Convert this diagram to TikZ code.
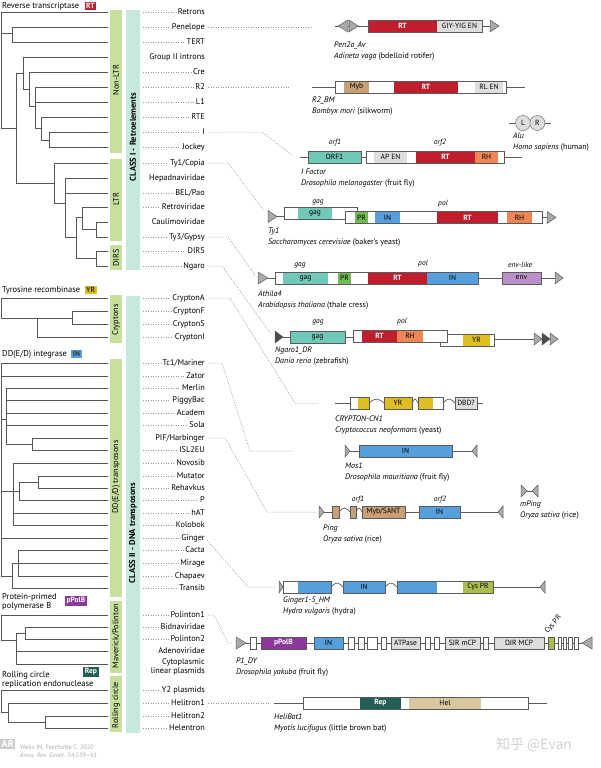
\documentclass[tikz,border=0pt]{standalone}
\usepackage{fontspec}
\setmainfont{PT Sans}
\newfontfamily\cjkfont{Noto Sans CJK SC}
\usepackage{tikz}
\usetikzlibrary{positioning,calc}
\definecolor{treegray}{RGB}{85,85,85}
\definecolor{dotgray}{RGB}{150,150,150}
\definecolor{catgreen}{RGB}{200,224,158}
\definecolor{clsteal}{RGB}{198,233,223}
\definecolor{rtred}{RGB}{192,30,45}
\definecolor{rhorange}{RGB}{238,135,85}
\definecolor{gagteal}{RGB}{112,200,184}
\definecolor{inblue}{RGB}{85,160,220}
\definecolor{prgreen}{RGB}{115,185,85}
\definecolor{envpurple}{RGB}{185,145,200}
\definecolor{yryellow}{RGB}{222,190,35}
\definecolor{mybtan}{RGB}{200,160,120}
\definecolor{domgray}{RGB}{222,222,222}
\definecolor{polbpurple}{RGB}{140,55,155}
\definecolor{repteal}{RGB}{35,95,85}
\definecolor{heltan}{RGB}{215,200,160}
\definecolor{cysgreen}{RGB}{170,190,80}
\definecolor{boxline}{RGB}{90,90,90}
\definecolor{trigray}{RGB}{170,170,170}
% gene map helpers
\newcommand{\seg}[6]{\fill[#5] (#2,#4-6) rectangle node[gtxt] (#1) {#6} (#3,#4+6);}
\newcommand{\gbox}[3]{\filldraw[gout,fill=white] (#1,#3-6) rectangle (#2,#3+6);}
\newcommand{\gedge}[3]{\draw[gout] (#1,#3-6) rectangle (#2,#3+6);}
\newcommand{\tri}[4]{\filldraw[#4] (#1,#3-6) -- (#2,#3) -- (#1,#3+6) -- cycle;}
\newcommand{\intr}[3]{\draw[gline] (#1,#3) sin ({(#1+#2)/2},#3-4) cos (#2,#3);}
\newcommand{\elname}[5]{\node[ename] (#1) at (#2,#3) {\textit{#4}\\#5};}
\tikzset{
  tr/.style={draw=treegray,line width=0.7pt},
  leaf/.style={anchor=east,inner sep=0pt,text height=5.8pt,text depth=1.6pt,font=\fontsize{8.3}{9}\selectfont},
  dots/.style={draw=dotgray,line width=0.5pt,dash pattern=on 1.2pt off 1.3pt},
  nodots/.style={draw=none},
  cattxt/.style={rotate=90,inner sep=0pt,font=\fontsize{8.3}{9}\selectfont},
  clstxt/.style={rotate=90,inner sep=0pt,font=\bfseries\fontsize{8.5}{9}\selectfont},
  hdr/.style={anchor=west,align=left,inner sep=0pt,font=\fontsize{8.5}{9.5}\selectfont},
  badge/.style={inner sep=1.6pt,font=\bfseries\fontsize{7.5}{8}\selectfont},
  gout/.style={draw=boxline,line width=0.6pt},
  gline/.style={draw=boxline,line width=0.7pt},
  gtxt/.style={inner sep=0pt,font=\fontsize{7.5}{8}\selectfont},
  glab/.style={inner sep=0pt,font=\itshape\fontsize{7.5}{8}\selectfont},
  ename/.style={anchor=north west,align=left,inner sep=0pt,font=\fontsize{8}{10.5}\selectfont},
  tri/.style={draw=boxline,fill=trigray,line width=0.5pt},
  trid/.style={draw=boxline,fill=black!70,line width=0.5pt},
  alu/.style={circle,draw=boxline,fill=domgray,minimum size=15pt,inner sep=0pt,font=\fontsize{7.5}{8}\selectfont},
}
\begin{document}
\begin{tikzpicture}[x=1pt,y=-1pt]
  \useasboundingbox (0,0) rectangle (600,768);
  \fill[white] (0,0) rectangle (600,768);
  % category and class bars
  \fill[catgreen] (110,10) rectangle (122,153);
  \fill[catgreen] (110,159) rectangle (122,241);
  \fill[catgreen] (110,245) rectangle (122,270);
  \fill[catgreen] (110,295) rectangle (122,343);
  \fill[catgreen] (110,359) rectangle (122,597);
  \fill[catgreen] (110,601) rectangle (122,673);
  \fill[catgreen] (110,676) rectangle (122,732);
  \fill[clsteal] (126,10) rectangle (140,270);
  \fill[clsteal] (126,296) rectangle (140,733);
  \node[cattxt] (nonltrTxt) at (116,80) {Non-LTR};
  \node[cattxt] (ltrTxt) at (116,199) {LTR};
  \node[cattxt] (dirsTxt) at (116,258) {DIRS};
  \node[cattxt] (cryTxt) at (116,320) {Cryptons};
  \node[cattxt] (ddeTxt) at (116,477) {DD(E/D) transposons};
  \node[cattxt] (mavTxt) at (116,636) {Maverick/Polinton};
  \node[cattxt] (rcTxt) at (116,705) {Rolling circle};
  \node[clstxt] (classOne) at (133,137) {CLASS I - Retroelements};
  \node[clstxt] (classTwo) at (133,533) {CLASS II - DNA transposons};
  % enzyme headers
  \node[hdr] (rtHead) at (2,6) {Reverse transcriptase};
  \node[badge,fill=rtred,text=white,right=5pt of rtHead] (rtBadge) {RT};
  \node[hdr] (yrHead) at (2,290) {Tyrosine recombinase};
  \node[badge,fill=yryellow,text=black!80,right=4pt of yrHead] (yrBadge) {YR};
  \node[hdr] (inHead) at (2,354) {DD(E/D) integrase};
  \node[badge,fill=inblue,text=black!80,right=4pt of inHead] (inBadge) {IN};
  \node[hdr] (polbHead) at (2,602) {Protein-primed\\polymerase B};
  \node[badge,fill=polbpurple,text=white] (polbBadge) at (76,601) {pPolB};
  \node[hdr] (repHead) at (2,680) {Rolling circle\\replication endonuclease};
  \node[badge,fill=repteal,text=white] (repBadge) at (91,672) {Rep};
  % retroelement tree
  \draw[tr] (108,12) -| (1,128) -- (16,128);
  \draw[tr] (1,33) -- (12,33);
  \draw[tr] (108,27) -| (12,42) -- (108,42);
  \draw[tr] (23,73) -- (16,73) -- (16,183) -- (54,183);
  \draw[tr] (108,57) -| (23,89) -- (29,89);
  \draw[tr] (108,72) -| (29,106) -- (35,106);
  \draw[tr] (108,87) -| (35,128) -- (41,128);
  \draw[tr] (35,102) -- (108,102);
  \draw[tr] (108,117) -| (41,140) -- (49,140);
  \draw[tr] (108,132) -| (49,147) -- (108,147);
  \draw[tr] (108,163) -| (54,203) -- (65,203);
  \draw[tr] (108,178) -| (65,237) -- (76,237);
  \draw[tr] (65,193) -- (108,193);
  \draw[tr] (82,217) -- (76,217) -- (76,258) -- (96,258);
  \draw[tr] (108,207) -| (82,229) -- (96,229);
  \draw[tr] (108,222) -| (96,237) -- (108,237);
  \draw[tr] (108,251) -| (96,266) -- (108,266);
  % crypton tree
  \draw[tr] (108,298) -| (1,318) -- (72,318);
  \draw[tr] (108,311) -| (72,324) -- (108,324);
  \draw[tr] (37,318) |- (108,337);
  % DDE tree
  \draw[tr] (108,363) -| (1,576) -- (12,576);
  \draw[tr] (1,376) -- (108,376);
  \draw[tr] (1,419) -- (6,419);
  \draw[tr] (108,388) -| (6,444) -- (32,444);
  \foreach \y in {400,413,425} \draw[tr] (6,\y) -- (108,\y);
  \draw[tr] (108,438) -| (32,450) -- (108,450);
  \draw[tr] (1,491) -- (19,491);
  \draw[tr] (108,463) -| (13,525) -- (108,525);
  \draw[tr] (38,482) -| (19,500) -- (108,500);
  \draw[tr] (108,476) -| (38,488) -- (108,488);
  \draw[tr] (13,513) -- (108,513);
  \draw[tr] (1,538) -- (108,538);
  \draw[tr] (108,550) -| (18,576) -- (108,576);
  \draw[tr] (108,563) -- (12,563) -- (12,588) -- (108,588);
  % polinton tree
  \draw[tr] (108,615) -| (1,640) -- (16,640);
  \draw[tr] (25,633) -- (16,633) -- (16,664) -- (108,664);
  \draw[tr] (108,627) -| (25,639) -- (108,639);
  \draw[tr] (16,651) -- (108,651);
  % rolling circle tree
  \draw[tr] (108,690) -| (1,712) -- (8,712);
  \draw[tr] (108,703) -| (8,722) -- (45,722);
  \draw[tr] (108,716) -| (45,728) -- (108,728);
  % leaf labels
  \foreach \y/\n/\lab/\ds in {12/retrons/Retrons/dots, 27/pen/Penelope/dots, 42/tert/TERT/dots,
      57/grpii/Group II introns/nodots, 72/cre/Cre/dots, 87/rtwo/R2/dots, 102/lone/L1/dots,
      117/rte/RTE/dots, 132/ii/I/dots, 147/jockey/Jockey/dots, 163/tyone/{Ty1/Copia}/dots,
      178/hepa/Hepadnaviridae/nodots, 193/bel/{BEL/Pao}/dots, 207/retro/Retroviridae/dots,
      222/cauli/Caulimoviridae/nodots, 237/tythree/{Ty3/Gypsy}/dots, 251/dirs/DIRS/dots,
      266/ngaro/Ngaro/dots, 298/cra/CryptonA/dots, 311/crf/CryptonF/dots, 324/crs/CryptonS/dots,
      337/cri/CryptonI/dots, 363/tcone/{Tc1/Mariner}/dots, 376/zator/Zator/dots,
      388/merlin/Merlin/dots, 400/piggy/PiggyBac/dots, 413/academ/Academ/dots, 425/sola/Sola/dots,
      438/pif/{PIF/Harbinger}/nodots, 450/isl/ISL2EU/dots, 463/novosib/Novosib/dots,
      476/mutator/Mutator/dots, 488/rehav/Rehavkus/dots, 500/pp/P/dots, 513/hat/hAT/dots,
      525/kolobok/Kolobok/dots, 538/ginger/Ginger/dots, 550/cacta/Cacta/dots,
      563/mirage/Mirage/dots, 576/chapaev/Chapaev/dots, 588/transib/Transib/dots,
      615/polone/Polinton1/dots, 627/bidna/Bidnaviridae/dots, 639/poltwo/Polinton2/dots,
      651/adeno/Adenoviridae/nodots, 690/ytwo/Y2 plasmids/dots, 703/helone/Helitron1/dots,
      716/heltwo/Helitron2/dots, 728/helen/Helentron/dots} {
    \node[leaf] (\n) at (205,\y) {\lab};
    \draw[\ds,shorten >=2pt] (143,\y) -- (\n.west);
  }
  \node[leaf,align=right,text height=,text depth=] (cyto) at (205,667) {Cytoplasmic\\linear plasmids};
  % Pen2a_Av
  \draw[gline] (335,26) -- (368,26);
  \tri{348}{338}{26}{tri}
  \tri{349}{358}{26}{tri}
  \gbox{368}{482}{26}
  \seg{penRT}{368}{437}{26}{fill=rtred,text=white}{\textbf{RT}}
  \seg{penEN}{437}{482}{26}{fill=domgray}{GIY-YIG EN}
  \gedge{368}{482}{26}
  \draw[gline] (482,26) -- (490,26);
  \tri{490}{499}{26}{tri}
  \elname{penName}{334}{42}{Pen2a\_Av}{\textit{Adineta vaga} (bdelloid rotifer)}
  % R2_BM
  \draw[gline] (312,87) -- (335,87);
  \gbox{335}{506}{87}
  \seg{rtwoMyb}{344}{369}{87}{fill=mybtan}{Myb}
  \seg{rtwoRT}{394}{458}{87}{fill=rtred,text=white}{\textbf{RT}}
  \seg{rtwoEN}{475}{503}{87}{fill=domgray}{RL EN}
  \gedge{335}{506}{87}
  \draw[gline] (506,87) -- (525,87);
  \elname{rtwoName}{312}{97}{R2\_BM}{\textit{Bombyx mori} (silkworm)}
  % Alu
  \node[alu] (aluL) at (523,123) {L};
  \node[alu,right=-1pt of aluL] (aluR) {R};
  \draw[gline] (aluL.west) -- +(-6,0);
  \draw[gline] (aluR.east) -- +(6,0);
  \elname{aluName}{513}{133}{Alu}{\textit{Homo sapiens} (human)}
  % I Factor
  \draw[gline] (300,157) -- (308,157);
  \seg{ifORF}{308}{361}{157}{fill=gagteal}{ORF1}
  \gedge{308}{361}{157}
  \draw[gline] (361,157) -- (366,157);
  \gbox{366}{504}{157}
  \seg{ifAP}{374}{407}{157}{fill=domgray}{AP EN}
  \seg{ifRT}{416}{475}{157}{fill=rtred,text=white}{\textbf{RT}}
  \seg{ifRH}{475}{498}{157}{fill=rhorange}{RH}
  \gedge{366}{504}{157}
  \draw[gline] (504,157) -- (522,157);
  \node[glab] (ifOrfOne) at (335,143) {orf1};
  \node[glab] (ifOrfTwo) at (440,143) {orf2};
  \elname{ifName}{301}{169}{I Factor}{\textit{Drosophila melanogaster} (fruit fly)}
  % Ty1
  \tri{268}{277}{216.5}{tri}
  \draw[gline] (277,216.5) -- (284,216.5);
  \gbox{284}{357}{213.5}
  \seg{tyGag}{298}{332}{213.5}{fill=gagteal}{gag}
  \gedge{284}{357}{213.5}
  \gbox{345}{542}{217.5}
  \seg{tyPR}{355}{368}{217.5}{fill=prgreen}{PR}
  \seg{tyIN}{375}{400}{217.5}{fill=inblue}{IN}
  \seg{tyRT}{437}{498}{217.5}{fill=rtred,text=white}{\textbf{RT}}
  \seg{tyRH}{507}{532}{217.5}{fill=rhorange}{RH}
  \gedge{345}{542}{217.5}
  \draw[gline] (542,217.5) -- (547,217.5);
  \tri{547}{556}{217.5}{tri}
  \node[glab] (tyGagLab) at (318,202) {gag};
  \node[glab] (tyPolLab) at (443,204) {pol};
  \elname{tyName}{268}{228}{Ty1}{\textit{Saccharomyces cerevisiae} (baker's yeast)}
  % Athila4
  \tri{258}{268}{278}{tri}
  \draw[gline] (268,278) -- (275,278);
  \gbox{275}{478}{278}
  \seg{atGag}{283}{328}{278}{fill=gagteal}{gag}
  \seg{atPR}{338}{351}{278}{fill=prgreen}{PR}
  \seg{atRT}{368}{427}{278}{fill=rtred,text=white}{\textbf{RT}}
  \seg{atIN}{427}{478}{278}{fill=inblue}{IN}
  \gedge{275}{478}{278}
  \draw[gline] (478,278) -- (502,278);
  \seg{atEnv}{502}{541}{278}{fill=envpurple}{env}
  \gedge{502}{541}{278}
  \draw[gline] (541,278) -- (555,278);
  \tri{555}{563}{278}{tri}
  \node[glab] (atGagLab) at (300,265) {gag};
  \node[glab] (atPolLab) at (423,264) {pol};
  \node[glab] (atEnvLab) at (520,265) {env-like};
  \elname{atName}{258}{291}{Athila4}{\textit{Arabidopsis thaliana} (thale cress)}
  % Ngaro1_DR
  \tri{275}{283}{337}{trid}
  \draw[gline] (283,337) -- (290,337);
  \seg{ngGag}{290}{345}{337}{fill=gagteal}{gag}
  \gedge{290}{345}{337}
  \draw[gline] (345,337) -- (353,337);
  \gbox{440}{494}{340}
  \seg{ngYR}{463}{490}{340}{fill=yryellow}{YR}
  \gedge{440}{494}{340}
  \gbox{353}{447}{336}
  \seg{ngRT}{362}{397}{336}{fill=rtred,text=white}{\textbf{RT}}
  \seg{ngRH}{397}{423}{336}{fill=rhorange}{RH}
  \gedge{353}{447}{336}
  \draw[gline] (494,339) -- (534,339);
  \tri{534}{542}{339}{tri}
  \tri{542}{550}{339}{trid}
  \tri{550}{558}{339}{tri}
  \node[glab] (ngGagLab) at (318,322) {gag};
  \node[glab] (ngPolLab) at (402,322) {pol};
  \elname{ngName}{275}{347}{Ngaro1\_DR}{\textit{Danio rerio} (zebrafish)}
  % CRYPTON-CN1
  \draw[gline] (335,403) -- (350,403);
  \gbox{350}{369}{403}
  \seg{cnA}{358}{369}{403}{fill=yryellow}{}
  \gedge{350}{369}{403}
  \intr{369}{384}{403}
  \seg{cnYR}{384}{412}{403}{fill=yryellow}{YR}
  \gedge{384}{412}{403}
  \intr{412}{418}{403}
  \gbox{418}{443}{403}
  \seg{cnB}{418}{433}{403}{fill=yryellow}{}
  \gedge{418}{443}{403}
  \intr{443}{455}{403}
  \seg{cnDBD}{455}{477}{403}{fill=domgray}{DBD?}
  \gedge{455}{477}{403}
  \draw[gline] (477,403) -- (483,403);
  \elname{cnName}{335}{416}{CRYPTON-CN1}{\textit{Cryptococcus neoformans} (yeast)}
  % Mos1
  \tri{345}{350}{451}{tri}
  \draw[gline] (350,451) -- (359,451);
  \seg{mosIN}{359}{452}{451}{fill=inblue}{IN}
  \gedge{359}{452}{451}
  \draw[gline] (452,451) -- (472,451);
  \tri{477}{472}{451}{tri}
  \elname{mosName}{345}{463}{Mos1}{\textit{Drosophila mauritiana} (fruit fly)}
  % mPing
  \tri{521}{527}{491}{tri}
  \draw[gline] (527,491) -- (532,491);
  \tri{538}{532}{491}{tri}
  \elname{mpName}{520}{501}{mPing}{\textit{Oryza sativa} (rice)}
  % Ping
  \tri{319}{324}{512}{tri}
  \draw[gline] (324,512) -- (332,512);
  \seg{pgA}{332}{339}{512}{fill=mybtan}{}
  \gedge{332}{339}{512}
  \intr{339}{350}{512}
  \seg{pgB}{350}{356}{512}{fill=mybtan}{}
  \gedge{350}{356}{512}
  \intr{356}{362}{512}
  \seg{pgMyb}{362}{405}{512}{fill=mybtan}{Myb/SANT}
  \gedge{362}{405}{512}
  \draw[gline] (405,512) -- (419,512);
  \seg{pgIN}{419}{460}{512}{fill=inblue}{IN}
  \gedge{419}{460}{512}
  \draw[gline] (460,512) -- (498,512);
  \tri{503}{498}{512}{tri}
  \node[glab] (pgOrfOne) at (358,500) {orf1};
  \node[glab] (pgOrfTwo) at (440,500) {orf2};
  \elname{pgName}{323}{525}{Ping}{\textit{Oryza sativa} (rice)}
  % Ginger1-5_HM
  \tri{279}{283}{587}{tri}
  \gbox{283}{331}{587}
  \seg{giA}{298}{331}{587}{fill=inblue}{}
  \gedge{283}{331}{587}
  \intr{331}{343}{587}
  \seg{giIN}{343}{385}{587}{fill=inblue}{IN}
  \gedge{343}{385}{587}
  \intr{385}{397}{587}
  \gbox{397}{493}{587}
  \seg{giB}{397}{437}{587}{fill=inblue}{}
  \seg{giCys}{463}{493}{587}{fill=cysgreen}{Cys PR}
  \gedge{397}{493}{587}
  \draw[gline] (493,587) -- (540,587);
  \tri{545}{540}{587}{tri}
  \elname{giName}{283}{597}{Ginger1-5\_HM}{\textit{Hydra vulgaris} (hydra)}
  % P1_DY
  \tri{236}{246}{643}{tri}
  \draw[gline] (246,643) -- (582,643);
  \foreach \a/\b in {250/256,348/354,358/364,367/377,381/386,425/430,434/439,483/488,558/561,563/566,568/572,574/578}
    \filldraw[gout,fill=white] (\a,637) rectangle (\b,649);
  \seg{pPol}{261}{306}{643}{fill=polbpurple,text=white}{\textbf{pPolB}}
  \gedge{261}{306}{643}
  \seg{pIN}{314}{343}{643}{fill=inblue}{IN}
  \gedge{314}{343}{643}
  \seg{pATP}{391}{420}{643}{fill=domgray}{ATPase}
  \gedge{391}{420}{643}
  \seg{pSJR}{445}{480}{643}{fill=domgray}{SJR mCP}
  \gedge{445}{480}{643}
  \seg{pDJR}{494}{544}{643}{fill=domgray}{DJR MCP}
  \gedge{494}{544}{643}
  \seg{pCys}{548}{554}{643}{fill=cysgreen}{}
  \gedge{548}{554}{643}
  \tri{592}{582}{643}{tri}
  \node[gtxt,rotate=50,anchor=south west] (pCysLab) at (549,635) {Cys PR};
  \elname{pName}{236}{658}{P1\_DY}{\textit{Drosophila yakuba} (fruit fly)}
  % HeliBat1
  \draw[gline] (274,703) -- (303,703);
  \gbox{303}{528}{703}
  \seg{hbRep}{360}{401}{703}{fill=repteal,text=white}{\textbf{Rep}}
  \seg{hbHel}{409}{481}{703}{fill=heltan}{Hel}
  \gedge{303}{528}{703}
  \draw[gline] (528,703) -- (547,703);
  \elname{hbName}{274}{714}{HeliBat1}{\textit{Myotis lucifugus} (little brown bat)}
  % links from families to example elements
  \coordinate (penIn) at (312,27);
  \coordinate (rtwoIn) at (290,87);
  \coordinate (iiBend) at (262,132);
  \coordinate (iiIn) at (292,155);
  \coordinate (tyoneBend) at (228,163);
  \coordinate (tyoneIn) at (264,211);
  \coordinate (tythreeBend) at (228,237);
  \coordinate (tythreeIn) at (255,275);
  \coordinate (ngaroBend) at (222,266);
  \coordinate (ngaroIn) at (271,334);
  \coordinate (craBend) at (230,298);
  \coordinate (craKnee) at (295,403);
  \coordinate (craIn) at (318,403);
  \coordinate (tconeBend) at (222,363);
  \coordinate (tconeKnee) at (250,451);
  \coordinate (tconeIn) at (293,451);
  \coordinate (pifBend) at (225,438);
  \coordinate (pifKnee) at (267,512);
  \coordinate (pifIn) at (316,512);
  \coordinate (gingerKnee) at (248,587);
  \coordinate (gingerIn) at (276,587);
  \coordinate (poloneBend) at (214,615);
  \coordinate (poloneKnee) at (228,643);
  \coordinate (poloneIn) at (233,643);
  \coordinate (heloneIn) at (270,703);
  \draw[dots,shorten <=3pt] (pen.east) -- (penIn);
  \draw[dots,shorten <=3pt] (rtwo.east) -- (rtwoIn);
  \draw[dots,shorten <=3pt] (ii.east) -- (iiBend) -- (iiIn);
  \draw[dots,shorten <=3pt] (tyone.east) -- (tyoneBend) -- (tyoneIn);
  \draw[dots,shorten <=3pt] (tythree.east) -- (tythreeBend) -- (tythreeIn);
  \draw[dots,shorten <=3pt] (ngaro.east) -- (ngaroBend) -- (ngaroIn);
  \draw[dots,shorten <=3pt] (cra.east) -- (craBend) -- (craKnee) -- (craIn);
  \draw[dots,shorten <=3pt] (tcone.east) -- (tconeBend) -- (tconeKnee) -- (tconeIn);
  \draw[dots,shorten <=3pt] (pif.east) -- (pifBend) -- (pifKnee) -- (pifIn);
  \draw[dots,shorten <=3pt] (ginger.east) -- (gingerKnee) -- (gingerIn);
  \draw[dots,shorten <=3pt] (polone.east) -- (poloneBend) -- (poloneKnee) -- (poloneIn);
  \draw[dots,shorten <=3pt] (helone.east) -- (heloneIn);
  % credit and watermark
  \node[fill=gray!40,text=white,inner sep=1.5pt,anchor=north west,font=\bfseries\fontsize{10}{10}\selectfont] (arLogo) at (0,739) {AR};
  \node[anchor=west,align=left,inner sep=0pt,text=gray!65,font=\fontsize{6.3}{8}\selectfont] (cite) at (20,751) {Wells JN, Feschotte C. 2020\\\textit{Annu. Rev. Genet.} 54:539–61};
  \node[text=gray!35,font=\cjkfont\fontsize{14}{14}\selectfont] (wmark) at (534,745) {知乎 @Evan};
\end{tikzpicture}
\end{document}
